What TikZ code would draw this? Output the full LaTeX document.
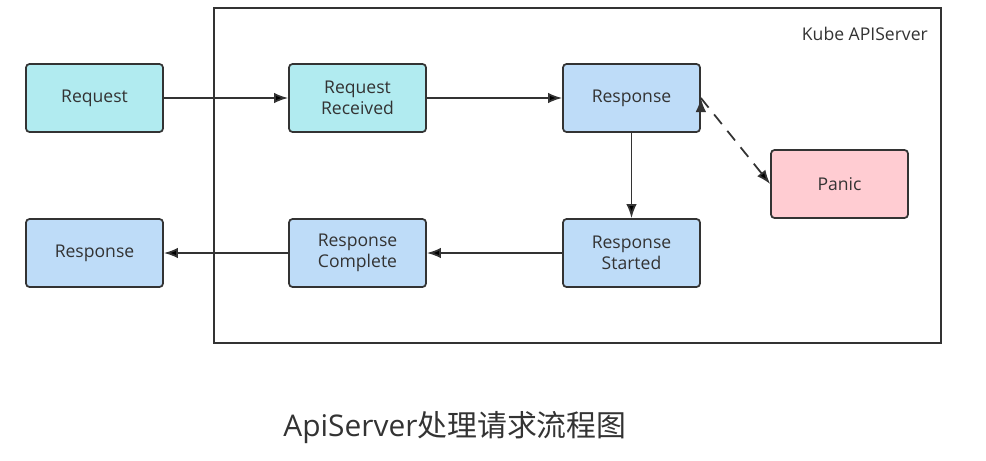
\documentclass[tikz,border=0pt]{standalone}
\usepackage{fontspec}
\setmainfont{Open Sans}
\newfontfamily\cjk{Noto Sans CJK SC}
\usetikzlibrary{arrows.meta}
\definecolor{boxcyan}{HTML}{B1EBF0}
\definecolor{boxblue}{HTML}{BEDCF8}
\definecolor{boxpink}{HTML}{FFCCD2}
\definecolor{edgegray}{HTML}{333333}
\tikzset{
  stage/.style={shape=rectangle,draw=edgegray,line width=1pt,rounded corners=2pt,
    minimum width=2.74cm,minimum height=1.36cm,align=center,font=\fontsize{10}{12}\selectfont,
    text=edgegray},
  flow/.style={-{Latex[length=8pt,width=6pt]},draw=edgegray,line width=1pt}
}
\begin{document}
\begin{tikzpicture}[x=0.02cm,y=-0.02cm]
    \useasboundingbox (0,0) rectangle (986,460);
    \draw[edgegray,line width=1pt] (214,8) rectangle (941,343);
    \node[text=edgegray,font=\fontsize{10}{12}\selectfont,anchor=east] (kube) at (934,34) {Kube APIServer};
	\node[stage,fill=boxcyan] (req)   at (94.5,98)  {Request};
	\node[stage,fill=boxcyan] (recv)  at (357.5,98) {Request\\Received};
	\node[stage,fill=boxblue] (resp)  at (631.5,98) {Response};
	\node[stage,fill=boxpink] (panic) at (839.5,184) {Panic};
	\node[stage,fill=boxblue] (start) at (631.5,253) {Response\\Started};
	\node[stage,fill=boxblue] (done)  at (357.5,253) {Response\\Complete};
	\node[stage,fill=boxblue] (out)   at (94.5,253) {Response};
    \path[flow] (req) edge (recv);
    \path[flow] (recv) edge (resp);
    \path[flow] (resp) edge (start);
    \path[flow] (start) edge (done);
    \path[flow] (done) edge (out);
    \path[flow,dash pattern=on 7pt off 5pt] (resp.east) edge (panic.west);
    \node[text=edgegray,font=\fontsize{17}{20}\selectfont] (title) at (455,428) {ApiServer{\cjk 处理请求流程图}};
\end{tikzpicture}
\end{document}
